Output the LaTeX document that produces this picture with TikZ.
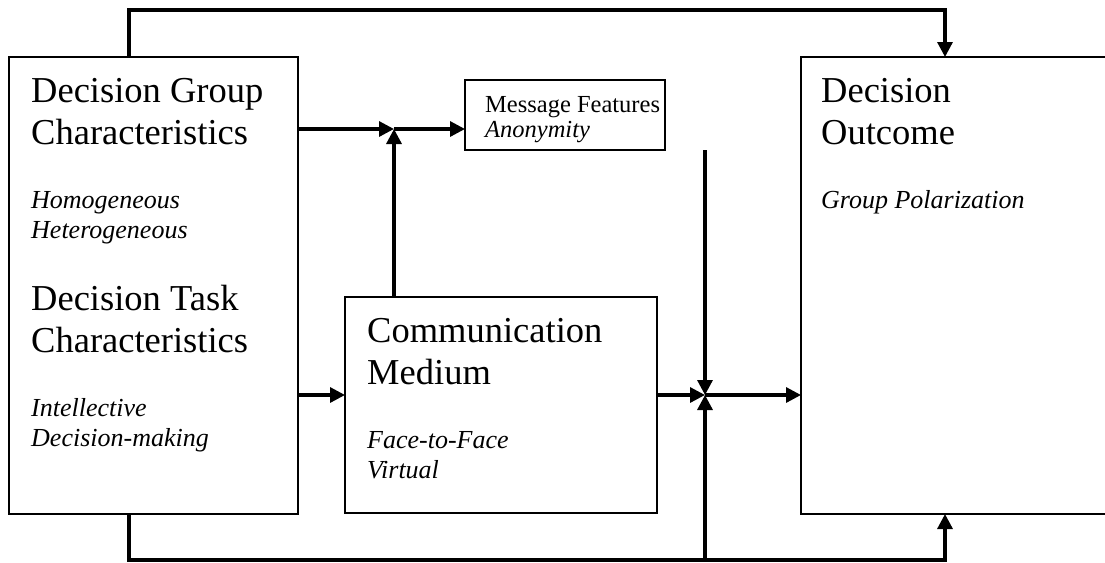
\documentclass[tikz,border=0pt]{standalone}
\usepackage{fontspec}
\setmainfont{Liberation Serif}
\usetikzlibrary{arrows.meta}
\begin{document}
\begin{tikzpicture}[x=1pt,y=-1pt,
  box/.style={draw, line width=1.3pt, inner sep=0pt, outer sep=0pt},
  conn/.style={line width=3.2pt, line join=miter, -{Triangle[length=15pt,width=15pt]}},
  big/.style={font=\fontsize{36.5}{42}\selectfont, anchor=base west, inner sep=0pt, align=left},
  ital/.style={font=\fontsize{26}{30}\selectfont\itshape, anchor=base west, inner sep=0pt, align=left},
  mid/.style={font=\fontsize{24.5}{28}\selectfont, anchor=base west, inner sep=0pt},
  midital/.style={font=\fontsize{24.5}{28}\selectfont\itshape, anchor=base west, inner sep=0pt}]
\useasboundingbox (0,0) rectangle (1105,562);
% boxes
\node[box, minimum width=289pt, minimum height=457pt] (lb) at (153.5,285.5) {};
\node[box, minimum width=312pt, minimum height=216pt] (cm) at (501,405) {};
\node[box, minimum width=200pt, minimum height=70pt] (mf) at (565,115) {};
\node[box, minimum width=307pt, minimum height=457pt] (rb) at (954.5,285.5) {};
% texts (anchored at the baseline of the last line)
\node[big] (t1) at (31,144) {Decision Group\\Characteristics};
\node[ital] (t2) at (31,238) {Homogeneous\\Heterogeneous};
\node[big] (t3) at (31,352) {Decision Task\\Characteristics};
\node[ital] (t4) at (31,446) {Intellective\\Decision-making};
\node[big] (t5) at (367,384) {Communication\\Medium};
\node[ital] (t6) at (367,478) {Face-to-Face\\Virtual};
\node[mid] (t7) at (485,112) {Message Features};
\node[midital] (t8) at (485,137) {Anonymity};
\node[big] (t9) at (821,144) {Decision\\Outcome};
\node[ital] (t10) at (821,208) {Group Polarization};
% coordinates
\coordinate (tl) at (129,10);
\coordinate (tr) at (945,10);
\coordinate (bl) at (129,560);
\coordinate (br) at (945,560);
\coordinate (bj) at (705,560);
\coordinate (j1) at (394,129);
\coordinate (j2) at (705,395);
% connectors
\draw[conn] (lb.north -| tl) -- (tl) -- (tr) -- (rb.north -| tr);
\draw[conn] (lb.south -| bl) -- (bl) -- (br) -- (rb.south -| br);
\draw[conn] (lb.east |- j1) -- (j1);
\draw[conn] (j1) -- (mf.west |- j1);
\draw[conn] (cm.north -| j1) -- (j1);
\draw[conn] (lb.east |- j2) -- (cm.west |- j2);
\draw[conn] (cm.east |- j2) -- (j2);
\draw[conn] (mf.south -| j2) -- (j2);
\draw[conn] (bj) -- (j2);
\draw[conn] (j2) -- (rb.west |- j2);
\end{tikzpicture}
\end{document}
